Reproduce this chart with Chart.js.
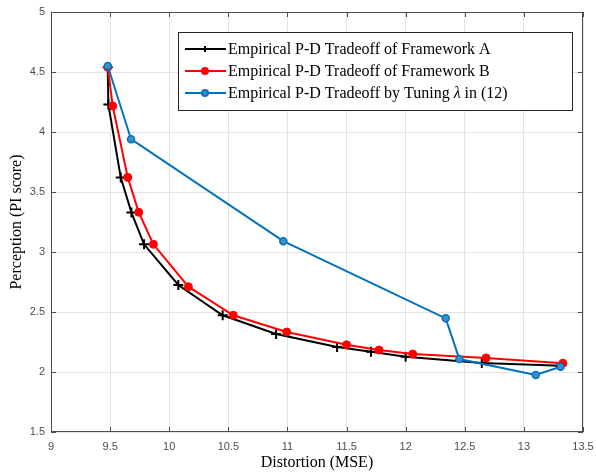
<!DOCTYPE html>
<html>
<head>
<meta charset="utf-8">
<script src="https://cdn.jsdelivr.net/npm/chart.js@4/dist/chart.umd.min.js"></script>
<style>
  html, body { margin: 0; padding: 0; background: #fff; }
  #wrap { width: 596px; height: 472px; }
</style>
</head>
<body>
<div id="wrap"><canvas id="myChart" width="596" height="472"></canvas></div>
<script>
// series values
const aX = [9.48, 9.485, 9.59, 9.68, 9.787, 10.077, 10.452, 10.904, 11.42, 11.707, 12.0, 12.644, 13.31];
const aY = [4.54, 4.23, 3.62, 3.33, 3.064, 2.725, 2.473, 2.317, 2.208, 2.169, 2.128, 2.075, 2.053];

const bX = [9.48, 9.522, 9.649, 9.742, 9.866, 10.162, 10.542, 10.994, 11.50, 11.775, 12.06, 12.68, 13.33];
const bY = [4.54, 4.217, 3.622, 3.331, 3.064, 2.711, 2.473, 2.333, 2.227, 2.183, 2.15, 2.117, 2.073];

const cX = [9.48, 9.677, 10.965, 12.339, 12.454, 13.10, 13.31];
const cY = [4.55, 3.94, 3.09, 2.447, 2.108, 1.975, 2.044];

const seriesLabels = [
  "Empirical P-D Tradeoff of Framework A",
  "Empirical P-D Tradeoff of Framework B",
  "Empirical P-D Tradeoff by Tuning \u03BB in (12)"
];
const xTicks = [9, 9.5, 10, 10.5, 11, 11.5, 12, 12.5, 13, 13.5];
const yTicks = [1.5, 2, 2.5, 3, 3.5, 4, 4.5, 5];

const toPoints = (xs, ys) => xs.map((x, i) => ({ x: x, y: ys[i] }));

// full box + inward ticks, like the original figure
const boxPlugin = {
  id: "box",
  afterDraw(chart) {
    const { ctx, chartArea: a, scales } = chart;
    ctx.save();
    ctx.strokeStyle = "#4d4d4d";
    ctx.lineWidth = 1;
    ctx.strokeRect(a.left + 0.5, a.top + 0.5, a.right - a.left - 1, a.bottom - a.top - 1);
    ctx.beginPath();
    xTicks.forEach(t => {
      const px = Math.round(scales.x.getPixelForValue(t)) + 0.5;
      ctx.moveTo(px, a.bottom); ctx.lineTo(px, a.bottom - 5);
      ctx.moveTo(px, a.top); ctx.lineTo(px, a.top + 5);
    });
    yTicks.forEach(t => {
      const py = Math.round(scales.y.getPixelForValue(t)) + 0.5;
      ctx.moveTo(a.left, py); ctx.lineTo(a.left + 5, py);
      ctx.moveTo(a.right, py); ctx.lineTo(a.right - 5, py);
    });
    ctx.stroke();
    ctx.restore();
  }
};

// legend drawn inside the plot, top right
const boxLegend = {
  id: "boxLegend",
  afterDraw(chart) {
    const ctx = chart.ctx;
    const left = 178, top = 32, w = 394, h = 78, rowH = 22;
    const font = "16px 'Liberation Serif'";
    ctx.save();
    ctx.fillStyle = "#fff";
    ctx.fillRect(left, top, w, h);
    ctx.strokeStyle = "#262626";
    ctx.lineWidth = 1;
    ctx.strokeRect(left + 0.5, top + 0.5, w, h);
    ctx.textBaseline = "middle";
    [0, 1, 2].forEach((i, r) => {
      const ds = chart.data.datasets[i];
      const y = top + 17 + r * rowH;
      ctx.strokeStyle = ds.borderColor;
      ctx.fillStyle = ds.backgroundColor;
      ctx.lineWidth = 2;
      ctx.beginPath();
      ctx.moveTo(185, y); ctx.lineTo(226, y);
      ctx.stroke();
      Chart.helpers.drawPoint(ctx, {
        pointStyle: ds.pointStyle, radius: 3, borderWidth: 2, rotation: 0
      }, 205, y);
      // lambda in italic, rest upright
      ctx.fillStyle = "#000";
      let x = 228;
      ds.label.split(/(\u03BB)/).forEach(part => {
        ctx.font = part === "\u03BB" ? "italic " + font : font;
        ctx.fillText(part, x, y + 1);
        x += ctx.measureText(part).width;
      });
    });
    ctx.restore();
  }
};

const ctx = document.getElementById("myChart").getContext("2d");
const myChart = new Chart(ctx, {
  type: "line",
  data: {
    datasets: [
      {
        label: seriesLabels[0],
        data: toPoints(aX, aY),
        borderColor: "#000000",
        backgroundColor: "#000000",
        borderWidth: 2,
        pointStyle: "cross",
        pointRadius: 5,
        pointBorderWidth: 2,
        order: 3
      },
      {
        label: seriesLabels[1],
        data: toPoints(bX, bY),
        borderColor: "#ff0000",
        backgroundColor: "#ff0000",
        borderWidth: 2,
        pointStyle: "circle",
        pointRadius: 4,
        pointBorderWidth: 1,
        order: 2
      },
      {
        label: seriesLabels[2],
        data: toPoints(cX, cY),
        borderColor: "#0072bd",
        backgroundColor: "#3d8fc9",
        borderWidth: 2,
        pointStyle: "circle",
        pointRadius: 3.5,
        pointBorderWidth: 1.5,
        order: 1
      }
    ]
  },
  options: {
    responsive: false,
    animation: false,
    layout: { padding: { top: 12, right: 13, left: 0, bottom: 0 } },
    plugins: {
      legend: { display: false },
      tooltip: { enabled: false }
    },
    scales: {
      x: {
        type: "linear",
        min: 9,
        max: 13.5,
        afterBuildTicks: s => { s.ticks = xTicks.map(v => ({ value: v })); },
        afterFit: s => { s.height = 40; s.paddingLeft = 0; s.paddingRight = 0; },
        ticks: {
          color: "#4d4d4d",
          font: { family: "'Liberation Sans'", size: 11 },
          padding: 8,
          maxRotation: 0,
          autoSkip: false,
          callback: v => String(v)
        },
        grid: { color: "#e3e3e3", drawTicks: false },
        border: { display: false },
        title: {
          display: true,
          text: "Distortion (MSE)",
          color: "#000",
          font: { family: "'Liberation Serif'", size: 16 },
          padding: { top: 0, bottom: 0 }
        }
      },
      y: {
        type: "linear",
        min: 1.5,
        max: 5,
        afterBuildTicks: s => { s.ticks = yTicks.map(v => ({ value: v })); },
        afterFit: s => { s.width = 51; s.paddingTop = 0; s.paddingBottom = 0; },
        ticks: {
          color: "#4d4d4d",
          font: { family: "'Liberation Sans'", size: 11 },
          padding: 6,
          autoSkip: false,
          callback: v => String(v)
        },
        grid: { color: "#e3e3e3", drawTicks: false },
        border: { display: false },
        title: {
          display: true,
          text: "Perception (PI score)",
          color: "#000",
          font: { family: "'Liberation Serif'", size: 16 },
          padding: { top: 7, bottom: 0 }
        }
      }
    }
  },
  plugins: [boxPlugin, boxLegend]
});
</script>
</body>
</html>
